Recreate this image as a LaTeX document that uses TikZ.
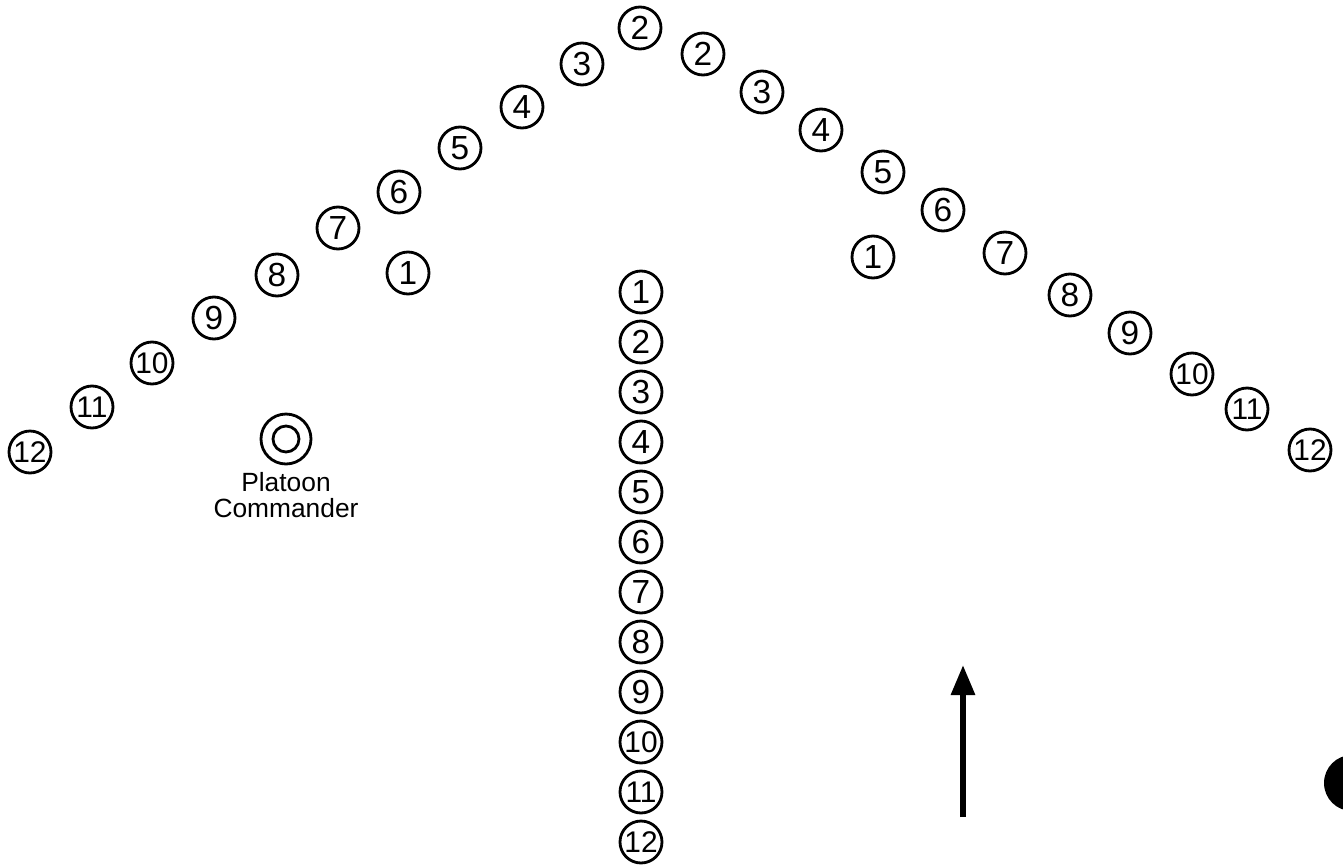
\documentclass[tikz,border=0pt]{standalone}
\usepackage{fontspec}
\setmainfont{Liberation Sans}
\usetikzlibrary{arrows.meta,positioning}

\tikzset{
  man/.style={draw, circle, line width=1.6pt, minimum size=0.84cm, inner sep=0pt,
    font=\fontsize{19}{19}\selectfont},
  twodigit/.style={font=\fontsize{17}{17}\selectfont}
}

\begin{document}
\begin{tikzpicture}[x=0.02cm, y=-0.02cm]
        \useasboundingbox (0,0) rectangle (1343,866);
        \clip (0,0) rectangle (1343,866);

        % left wing
        \foreach \n/\x/\y in {2/640/28, 3/582/64, 4/522/107, 5/460/148, 6/399/192,
                              7/338/228, 8/277/275, 9/214/318}
            \node[man] (l\n) at (\x,\y) {\n};
        \foreach \n/\x/\y in {10/152/363, 11/92/407, 12/30/452}
            \node[man, twodigit] (l\n) at (\x,\y) {\n};
        \node[man] (l1) at (408,273) {1};

        % right wing
        \foreach \n/\x/\y in {2/703/54, 3/762/92, 4/821/130, 5/883/172, 6/943/210,
                              7/1005/253, 8/1070/295, 9/1130/333}
            \node[man] (r\n) at (\x,\y) {\n};
        \foreach \n/\x/\y in {10/1192/374, 11/1247/409, 12/1310/450}
            \node[man, twodigit] (r\n) at (\x,\y) {\n};
        \node[man] (r1) at (873,257) {1};

        % column
        \foreach \n in {1,...,9}
            \node[man] (c\n) at (641,242+50*\n) {\n};
        \foreach \n in {10,11,12}
            \node[man, twodigit] (c\n) at (641,242+50*\n) {\n};

        % platoon commander
        \node[circle, draw, line width=1.6pt, minimum size=1.0cm] (pc) at (286,439) {};
        \node[circle, draw, line width=1.6pt, minimum size=0.52cm] (pcin) at (pc) {};
        \node[below=4pt of pc.south, font=\fontsize{15}{14.5}\selectfont, align=center,
              inner sep=0pt] (pclabel) {Platoon\\Commander};

        % direction of movement
        \coordinate (arrfoot) at (963,817);
        \coordinate (arrtip) at (963,665);
        \draw[line width=3.4pt, -{Triangle[length=0.6cm, width=0.46cm]}] (arrfoot) -- (arrtip);

        % mark at the edge
        \fill (1352,783) circle (28);
\end{tikzpicture}
\end{document}
